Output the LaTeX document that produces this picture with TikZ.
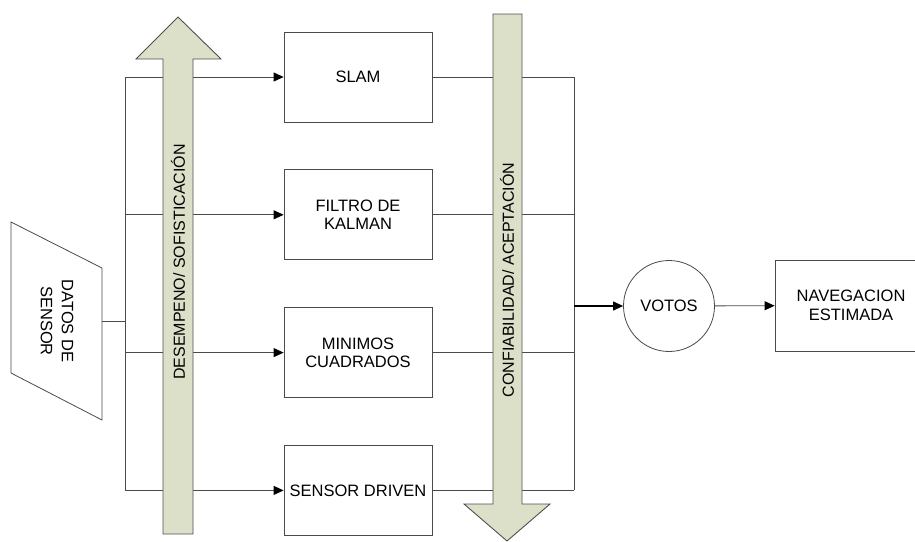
\documentclass[tikz,border=0pt]{standalone}
\usepackage{fontspec}
\setmainfont{Liberation Sans}
\usetikzlibrary{arrows.meta,positioning}
\definecolor{dsline}{HTML}{4A4A4A}
\definecolor{dsfill}{HTML}{DCE0C8}
\definecolor{dsedge}{HTML}{505050}
\tikzset{
  dsbox/.style={draw=dsline,fill=white,line width=.8pt,minimum width=148pt,
    minimum height=90pt,align=center,inner sep=2pt,font=\fontsize{16.5}{18.5}\selectfont},
  dsvote/.style={circle,draw=dsline,fill=white,line width=.8pt,minimum size=91pt,
    inner sep=0pt,font=\fontsize{16.5}{18.5}\selectfont},
  dsbig/.style={draw=dsedge,fill=dsfill,line width=.9pt},
  dsside/.style={rotate=90,font=\fontsize{16}{18}\selectfont},
  wire/.style={draw=dsline,line width=.8pt},
  flow/.style={-{Triangle[length=10pt,width=9pt,color=black]},wire}
}
\begin{document}
\begin{tikzpicture}[x=1pt,y=-1pt,node distance=47pt]
    \useasboundingbox (0,0) rectangle (915,541);
    % entrada
    \draw[wire,fill=white] (11,222)--(102,268)--(102,420)--(11,373)--cycle;
    \node[rotate=-90,align=center,font=\fontsize{16.5}{21}\selectfont] (datos) at (57,321) {DATOS DE\\SENSOR};
    \coordinate (datosout) at (102,321);
    \coordinate (busl) at (125,321);
    \coordinate (busr) at (574,306);
    % metodos
    \node[dsbox] (slam) at (358,77) {SLAM};
    \node[dsbox,below=of slam] (filtro) {FILTRO DE\\KALMAN};
    \node[dsbox,below=of filtro] (minimos) {MINIMOS\\CUADRADOS};
    \node[dsbox,below=of minimos] (sensor) {SENSOR DRIVEN};
    \node[dsvote] (votos) at (669,306) {VOTOS};
    \node[dsbox,minimum width=152pt,minimum height=91pt] (nav) at (851,305.5) {NAVEGACION\\ESTIMADA};
    % conexiones
    \draw[wire] (datosout)--(busl);
    \draw[wire] (slam.west -| busl)--(sensor.west -| busl);
    \foreach \m in {slam,filtro,minimos,sensor}
      \draw[flow] (\m.west -| busl)--(\m.west);
    \foreach \m in {slam,filtro,minimos,sensor}
      \draw[wire] (\m.east)--(\m.east -| busr);
    \draw[wire] (slam.east -| busr)--(sensor.east -| busr);
    \draw[flow,line width=1.2pt,draw=black] (busr)--(votos.west);
    \draw[flow] (votos)--(nav);
    % flechas grandes
    \draw[dsbig] (163,534)--(163,59)--(136,59)--(178,17)--(221,59)--(193,59)--(193,534)--cycle;
    \node[dsside] (desempeno) at (178,262) {DESEMPENO/ SOFISTICACIÓN};
    \draw[dsbig] (493,14)--(493,504)--(464,504)--(507,541)--(550,504)--(522,504)--(522,14)--cycle;
    \node[dsside] (confianza) at (507,280) {CONFIABILIDAD/ ACEPTACIÓN};
\end{tikzpicture}
\end{document}
